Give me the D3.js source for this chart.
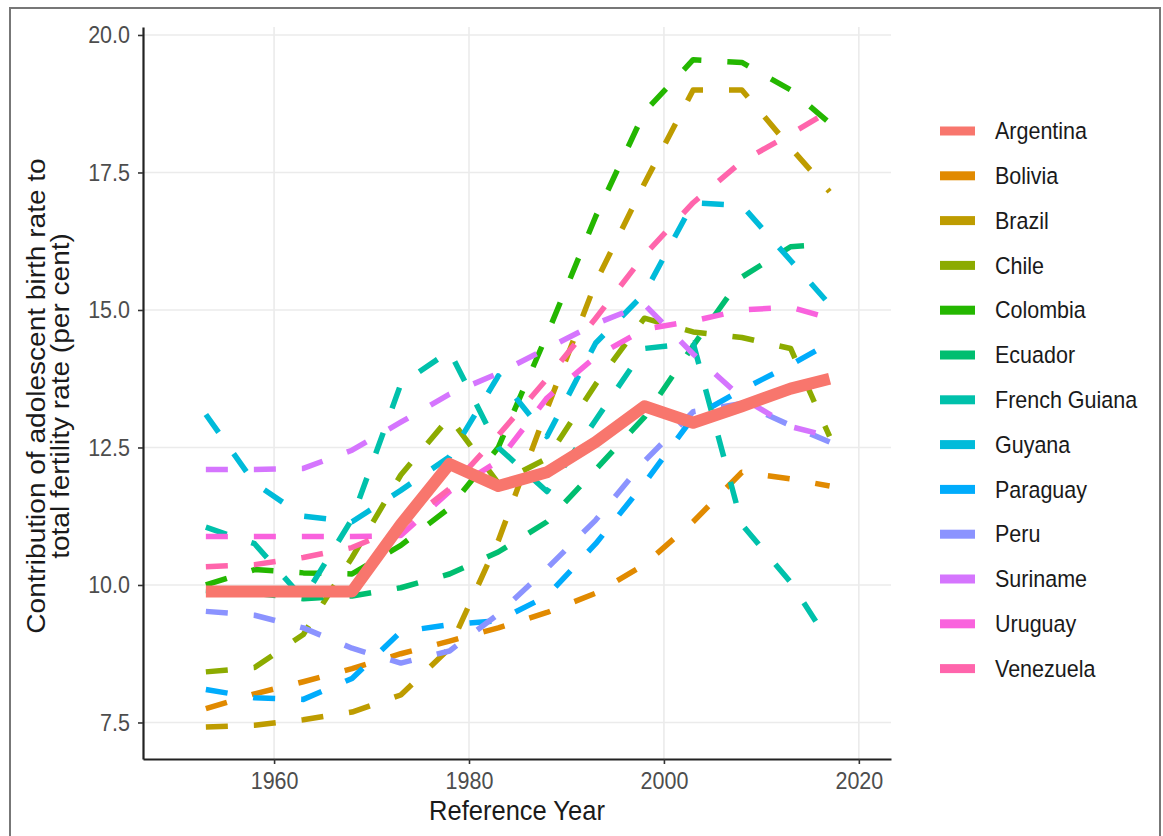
<!DOCTYPE html>
<html>
<head>
<meta charset="utf-8">
<script src="https://cdnjs.cloudflare.com/ajax/libs/d3/7.8.5/d3.min.js"></script>
<style>
  body { margin: 0; background: #fff; }
  text { font-family: "Liberation Sans", Arial, sans-serif; }
</style>
</head>
<body>
<div class="chart"></div>
<script>
// Data
var years = [1953, 1958, 1963, 1968, 1973, 1978, 1983, 1988, 1993, 1998, 2003, 2008, 2013, 2017];

var countries = ["Argentina", "Bolivia", "Brazil", "Chile", "Colombia", "Ecuador",
  "French Guiana", "Guyana", "Paraguay", "Peru", "Suriname", "Uruguay", "Venezuela"];

var argentina   = [9.88, 9.88, 9.88, 9.88, 11.1, 12.2, 11.8, 12.05, 12.6, 13.25, 12.95, 13.25, 13.57, 13.75];
var bolivia     = [7.75, 8.02, 8.24, 8.48, 8.75, 8.98, 9.22, 9.5, 9.85, 10.37, 11.15, 12.05, 11.93, 11.8];
var brazil      = [7.42, 7.45, 7.55, 7.69, 8.0, 8.85, 10.8, 13.2, 15.5, 17.3, 19.0, 19.0, 17.95, 17.15];
var chile       = [8.42, 8.5, 9.1, 10.5, 12.0, 13.05, 11.85, 12.3, 13.65, 14.85, 14.6, 14.5, 14.3, 12.7];
var colombia    = [10.0, 10.28, 10.22, 10.2, 10.72, 11.4, 12.5, 14.55, 16.7, 18.6, 19.55, 19.5, 19.0, 18.4];
var ecuador     = [9.9, 9.85, 9.75, 9.8, 9.95, 10.2, 10.6, 11.15, 12.1, 13.05, 14.35, 15.6, 16.15, 16.2];
var frenchGuiana = [11.05, 10.75, 9.75, 11.2, 13.65, 14.25, 12.5, 11.7, 13.0, 14.3, 14.4, 11.1, 10.05, 8.95];
var guyana      = [13.1, 11.85, 11.25, 11.15, 11.72, 12.33, 13.8, 12.7, 14.4, 15.3, 16.95, 16.9, 15.9, 15.1];
var paraguay    = [8.1, 7.95, 7.92, 8.3, 9.15, 9.28, 9.35, 9.8, 10.75, 11.85, 13.05, 13.55, 14.0, 14.4];
var peru        = [9.52, 9.45, 9.22, 8.85, 8.58, 8.8, 9.47, 10.3, 11.18, 12.25, 13.15, 13.3, 12.9, 12.6];
var suriname    = [12.1, 12.1, 12.12, 12.45, 12.96, 13.47, 13.85, 14.3, 14.75, 15.1, 14.2, 13.4, 12.88, 12.7];
var uruguay     = [10.88, 10.88, 10.88, 10.88, 10.9, 11.7, 12.25, 13.4, 14.15, 14.65, 14.8, 15.0, 15.05, 14.85];
var venezuela   = [10.33, 10.37, 10.5, 10.68, 11.05, 11.75, 12.72, 13.75, 14.85, 16.0, 16.95, 17.7, 18.2, 18.62];

var yTicks = [7.5, 10, 12.5, 15, 17.5, 20];
var xTicks = [1960, 1980, 2000, 2020];

var colors = ["#F8766D", "#E18A00", "#BE9C00", "#8CAB00", "#24B700", "#00BE70",
  "#00C1AB", "#00BBDA", "#00ACFC", "#8B93FF", "#D575FE", "#F962DD", "#FF65AC"];

var seriesValues = [argentina, bolivia, brazil, chile, colombia, ecuador, frenchGuiana,
  guyana, paraguay, peru, suriname, uruguay, venezuela];

var svgWidth = 1163;
var svgHeight = 836;

var panel = { left: 143, right: 891, top: 27, bottom: 759 };

// the reference looks a bit stretched vertically, so text gets a small stretch too
var stretch = 1.1;

var svg = d3.select(".chart")
  .append("svg")
  .attr("width", svgWidth)
  .attr("height", svgHeight);

// outer frame of the screenshot
svg.append("rect")
  .attr("x", 10).attr("y", 8)
  .attr("width", 1150).attr("height", 850)
  .attr("fill", "none")
  .attr("stroke", "#777")
  .attr("stroke-width", 2);

// Step 1: scales
var xScale = d3.scaleLinear()
  .domain([1946.55, 2023.3])
  .range([panel.left, panel.right]);

var yScale = d3.scaleLinear()
  .domain([6.836, 20.145])
  .range([panel.bottom, panel.top]);

var colorScale = d3.scaleOrdinal().domain(countries).range(colors);

// Step 2: grid lines
var grid = svg.append("g");
grid.selectAll("line.gx").data(xTicks).enter()
  .append("line")
  .attr("x1", d => xScale(d)).attr("x2", d => xScale(d))
  .attr("y1", panel.top).attr("y2", panel.bottom)
  .attr("stroke", "#EBEBEB").attr("stroke-width", 1.6);
grid.selectAll("line.gy").data(yTicks).enter()
  .append("line")
  .attr("x1", panel.left).attr("x2", panel.right)
  .attr("y1", d => yScale(d)).attr("y2", d => yScale(d))
  .attr("stroke", "#EBEBEB").attr("stroke-width", 1.6);

// Step 3: lines
var lineGen = d3.line()
  .x((d, i) => xScale(years[i]))
  .y(d => yScale(d));

var data = countries.map(function(c, i) {
  return { name: c, values: seriesValues[i] };
});

var lines = svg.append("g");

lines.selectAll("path.dashed")
  .data(data.filter(d => d.name !== "Argentina"))
  .enter()
  .append("path")
  .attr("d", d => lineGen(d.values))
  .attr("fill", "none")
  .attr("stroke", d => colorScale(d.name))
  .attr("stroke-width", 5.5)
  .attr("stroke-dasharray", "22,26")
  .attr("stroke-linejoin", "round");

// Argentina drawn on top, thick solid
lines.append("path")
  .datum(data[0])
  .attr("d", d => lineGen(d.values))
  .attr("fill", "none")
  .attr("stroke", d => colorScale(d.name))
  .attr("stroke-width", 12)
  .attr("stroke-linejoin", "round");

// Step 4: axes
var leftAxis = d3.axisLeft(yScale)
  .tickValues(yTicks)
  .tickFormat(d3.format(".1f"))
  .tickSizeInner(5)
  .tickSizeOuter(0)
  .tickPadding(8);

var bottomAxis = d3.axisBottom(xScale)
  .tickValues(xTicks)
  .tickFormat(d3.format("d"))
  .tickSizeInner(5)
  .tickSizeOuter(0)
  .tickPadding(7);

var yAxisG = svg.append("g")
  .attr("transform", `translate(${panel.left}, 0)`)
  .call(leftAxis);

var xAxisG = svg.append("g")
  .attr("transform", `translate(0, ${panel.bottom})`)
  .call(bottomAxis);

[yAxisG, xAxisG].forEach(function(g) {
  g.select(".domain").attr("stroke", "#222").attr("stroke-width", 2.2);
  g.selectAll(".tick line").attr("stroke", "#333").attr("stroke-width", 1.6);
  g.selectAll(".tick text")
    .attr("fill", "#4D4D4D")
    .attr("transform", `scale(1, ${stretch})`)
    .style("font-size", "21.5px");
});

// axis titles
svg.append("text")
  .attr("transform", `translate(${(panel.left + panel.right) / 2}, 820) scale(1, ${stretch})`)
  .attr("text-anchor", "middle")
  .attr("fill", "#1A1A1A")
  .style("font-size", "25.5px")
  .text("Reference Year");

var yTitle = svg.append("text")
  .attr("transform", `translate(0, ${(panel.top + panel.bottom) / 2 + 3}) rotate(-90) scale(${stretch}, 1)`)
  .attr("text-anchor", "middle")
  .attr("fill", "#1A1A1A")
  .style("font-size", "25.5px");
yTitle.append("tspan").attr("x", 0).attr("y", 45).text("Contribution of adolescent birth rate to");
yTitle.append("tspan").attr("x", 0).attr("y", 69).text("total fertility rate (per cent)");

// Step 5: legend
var legend = svg.append("g");
var legendRows = legend.selectAll("g").data(countries).enter()
  .append("g")
  .attr("transform", (d, i) => `translate(940, ${131 + i * 44.8})`);

legendRows.append("rect")
  .attr("x", 0).attr("y", -4.5)
  .attr("width", 35).attr("height", 9)
  .attr("fill", d => colorScale(d));

legendRows.append("text")
  .attr("x", 55)
  .attr("y", 0)
  .attr("dy", "0.35em")
  .attr("fill", "#1A1A1A")
  .attr("transform", `scale(1, ${stretch})`)
  .style("font-size", "21.5px")
  .text(d => d);
</script>
</body>
</html>
